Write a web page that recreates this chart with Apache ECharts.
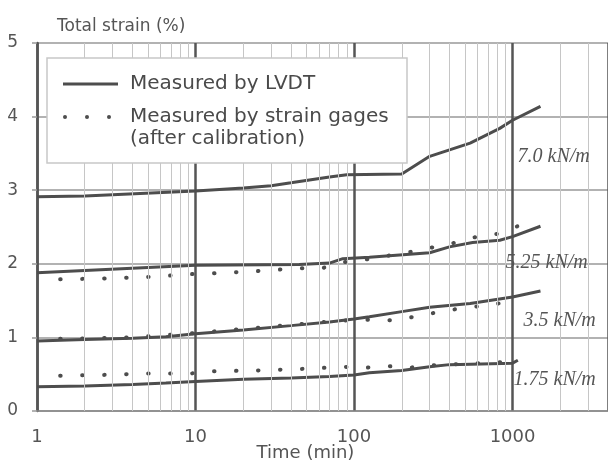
<!DOCTYPE html>
<html>
<head>
<meta charset="utf-8">
<script src="https://cdn.jsdelivr.net/npm/echarts@6/dist/echarts.min.js"></script>
<style>
  html, body { margin: 0; padding: 0; background: #fff; }
  #chart { width: 608px; height: 465px; }
</style>
</head>
<body>
<div id="chart"></div>
<script>
// [time (min), total strain (%)]
var lvdt70 = [[1, 2.91], [2, 2.92], [10, 2.99], [20, 3.03], [30, 3.06], [40, 3.10], [70, 3.18], [90, 3.21], [200, 3.22], [300, 3.46], [540, 3.64], [830, 3.84], [1000, 3.95], [1500, 4.14]]
var lvdt525 = [[1, 1.88], [2, 1.91], [10, 1.98], [45, 1.99], [70, 2.01], [85, 2.07], [125, 2.09], [300, 2.15], [400, 2.23], [560, 2.29], [830, 2.32], [1000, 2.37], [1500, 2.51]]
var lvdt35 = [[1, 0.95], [2, 0.97], [4, 0.99], [6.5, 1.01], [10, 1.05], [20, 1.10], [40, 1.16], [70, 1.21], [100, 1.25], [125, 1.28], [200, 1.35], [300, 1.41], [540, 1.46], [1000, 1.55], [1500, 1.63]]
var lvdt175 = [[1, 0.33], [2, 0.34], [4, 0.36], [6.5, 0.38], [10, 0.40], [20, 0.43], [40, 0.45], [70, 0.47], [100, 0.49], [125, 0.52], [200, 0.55], [300, 0.60], [400, 0.63], [1000, 0.65], [1080, 0.69]]

// strain gages (after calibration)
var gage525 = [[1.4, 1.79], [2.6, 1.80], [4.9, 1.82], [9.4, 1.86], [12.7, 1.87], [24, 1.90], [33, 1.92], [45, 1.94], [63, 1.94], [85, 2.02], [120, 2.06], [225, 2.16], [420, 2.28], [600, 2.37], [830, 2.41], [1100, 2.52]]
var gage35 = [[1.4, 0.98], [4, 1.00], [10, 1.06], [40, 1.17], [85, 1.23], [121, 1.24], [164, 1.23], [226, 1.27], [315, 1.33], [428, 1.38], [589, 1.42], [810, 1.46], [1100, 1.53]]
var gage175 = [[1.4, 0.48], [2.6, 0.49], [4.9, 0.51], [9.4, 0.51], [12.7, 0.54], [24, 0.55], [45, 0.57], [85, 0.60], [121, 0.59], [164, 0.61], [226, 0.59], [315, 0.62], [600, 0.65], [1000, 0.67]]

var curveLabels = ['7.0 kN/m', '5.25 kN/m', '3.5 kN/m', '1.75 kN/m']
var labelAt = [[1067, 3.45], [897, 2.02], [1165, 1.23], [1007, 0.42]]

// light grid lines between decades
var minorTicks = [2, 3, 4, 5, 6, 7, 8, 9, 20, 30, 40, 50, 60, 70, 80, 90, 200, 300, 400, 500, 600, 700, 800, 900, 2000, 3000]

var ink = '#4d4d4d'
var sans = '"DejaVu Sans", sans-serif'

var series = []

var solid = [lvdt70, lvdt525, lvdt35, lvdt175]
for (var i = 0; i < solid.length; i++) {
  series.push({
    name: 'Measured by LVDT',
    type: 'line',
    data: solid[i],
    symbol: 'none',
    lineStyle: { color: ink, width: 3 },
    markPoint: {
      silent: true,
      symbol: 'circle',
      symbolSize: 1,
      itemStyle: { color: 'rgba(0,0,0,0)' },
      data: [{
        coord: labelAt[i],
        label: {
          show: true,
          position: 'right',
          distance: 0,
          formatter: curveLabels[i],
          color: '#555',
          fontFamily: '"Liberation Serif", serif',
          fontStyle: 'italic',
          fontSize: 20
        }
      }]
    }
  })
}

// minor grid hung on the first curve
series[0].markLine = {
  silent: true,
  symbol: 'none',
  label: { show: false },
  lineStyle: { color: '#c6c6c6', width: 1, type: 'solid' },
  data: minorTicks.map(function (v) { return { xAxis: v } })
}

var dotted = [gage525, gage35, gage175]
for (var j = 0; j < dotted.length; j++) {
  series.push({
    name: 'Measured by strain gages',
    type: 'line',
    data: dotted[j],
    symbol: 'none',
    lineStyle: { color: ink, width: 4, type: [0.5, 21.5], cap: 'round' }
  })
}

var chart = echarts.init(document.getElementById('chart'))
chart.setOption({
  animation: false,
  backgroundColor: '#fff',
  grid: { left: 37, right: 0, top: 43, bottom: 54, containLabel: false, outerBoundsMode: 'none' },
  xAxis: {
    type: 'log',
    logBase: 10,
    min: 1,
    max: 4000,
    name: 'Time (min)',
    nameLocation: 'middle',
    nameGap: 33,
    nameMoveOverlap: false,
    nameTextStyle: { color: '#555', fontFamily: sans, fontSize: 18, padding: [0, 34, 0, 0] },
    axisLine: { lineStyle: { color: '#888', width: 1.5 } },
    axisTick: { show: false },
    axisLabel: {
      color: '#555', fontFamily: sans, fontSize: 18, margin: 17, showMaxLabel: false,
      formatter: function (v) { return String(Math.round(v)) }
    },
    splitLine: { show: true, lineStyle: { color: '#555', width: 2.5 } }
  },
  yAxis: {
    type: 'value',
    min: 0,
    max: 5,
    interval: 1,
    name: 'Total strain (%)',
    nameLocation: 'end',
    nameGap: 8,
    nameTextStyle: { color: '#555', fontFamily: sans, fontSize: 17, align: 'left', padding: [0, 0, 0, 20] },
    axisLine: { show: true, lineStyle: { color: '#555', width: 2.5 } },
    axisTick: { show: true, length: 5, lineStyle: { color: '#999', width: 1.5 } },
    axisLabel: { color: '#555', fontFamily: sans, fontSize: 17, margin: 19 },
    splitLine: { show: true, lineStyle: { color: '#999', width: 1.5 } }
  },
  graphic: [
    { type: 'rect', z: 100, shape: { x: 47, y: 58, width: 360, height: 105 }, style: { fill: '#fff', stroke: '#c8c8c8', lineWidth: 1.5 } },
    { type: 'line', z: 101, shape: { x1: 63, y1: 84, x2: 118, y2: 84 }, style: { stroke: ink, lineWidth: 3 } },
    { type: 'circle', z: 101, shape: { cx: 65, cy: 117, r: 2 }, style: { fill: ink } },
    { type: 'circle', z: 101, shape: { cx: 87, cy: 117, r: 2 }, style: { fill: ink } },
    { type: 'circle', z: 101, shape: { cx: 109, cy: 117, r: 2 }, style: { fill: ink } },
    { type: 'text', z: 101, style: { x: 130, y: 84, text: 'Measured by LVDT', fill: '#4a4a4a', font: '20px ' + sans, verticalAlign: 'middle' } },
    { type: 'text', z: 101, style: { x: 130, y: 117, text: 'Measured by strain gages', fill: '#4a4a4a', font: '20px ' + sans, verticalAlign: 'middle' } },
    { type: 'text', z: 101, style: { x: 130, y: 139, text: '(after calibration)', fill: '#4a4a4a', font: '20px ' + sans, verticalAlign: 'middle' } }
  ],
  series: series
})
</script>
</body>
</html>
